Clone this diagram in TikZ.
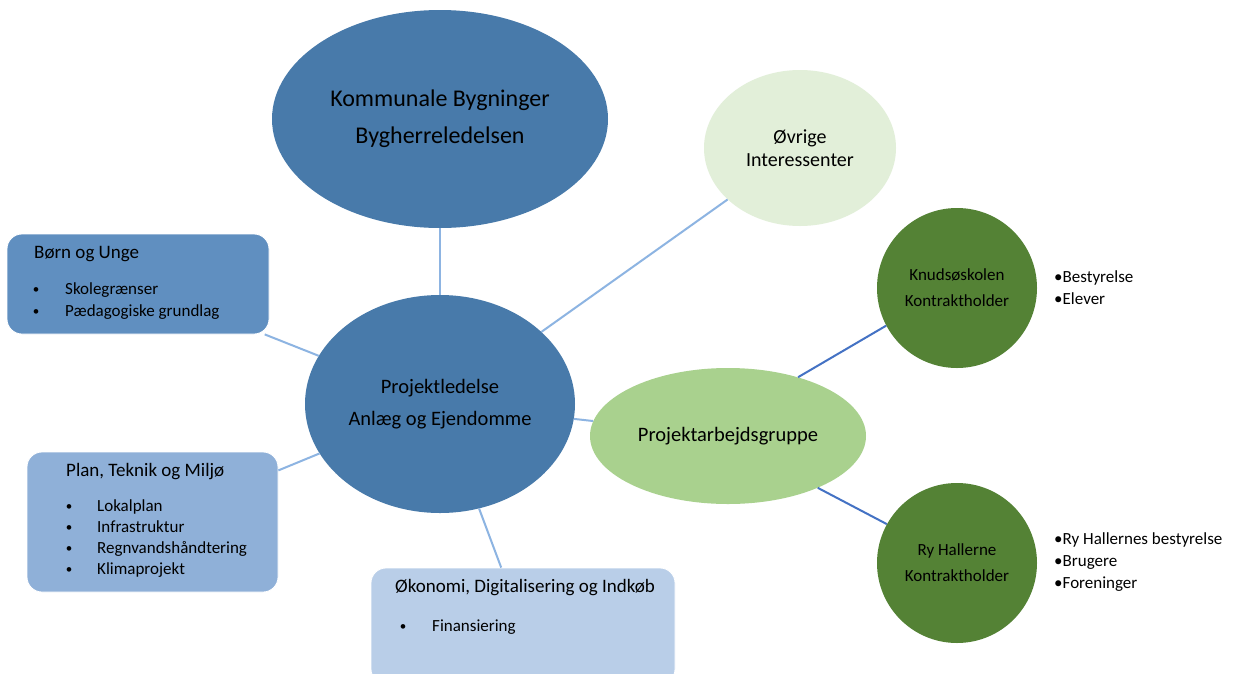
\documentclass[tikz,border=0pt]{standalone}
\usepackage{fontspec}
\setmainfont{Carlito}
\usetikzlibrary{shapes.geometric}
\definecolor{midblue}{RGB}{72,122,170}
\definecolor{boxblueA}{RGB}{96,143,192}
\definecolor{boxblueB}{RGB}{143,176,216}
\definecolor{boxblueC}{RGB}{185,206,232}
\definecolor{palegreen}{RGB}{226,239,217}
\definecolor{lightgreen}{RGB}{169,209,142}
\definecolor{darkgreen}{RGB}{84,130,53}
\definecolor{linkblue}{RGB}{141,180,226}
\definecolor{linkdark}{RGB}{68,114,196}
\begin{document}
\begin{tikzpicture}[x=1pt,y=-1pt,
  oval/.style={ellipse, inner sep=0pt, align=center, text=black},
  infobox/.style={rectangle, rounded corners=15pt, inner sep=0pt, draw=white, line width=0.8pt},
  boxtitle/.style={anchor=mid west, inner sep=0pt, font=\fontsize{19}{22}\selectfont},
  boxitem/.style={anchor=mid west, inner sep=0pt, font=\fontsize{17}{20}\selectfont},
  boxbullet/.style={anchor=center, inner sep=0pt, font=\fontsize{13}{15}\selectfont},
  sidelist/.style={anchor=west, inner sep=0pt, align=left, font=\fontsize{17}{22}\selectfont},
  link/.style={draw=linkblue, line width=2pt},
  dlink/.style={draw=linkdark, line width=2pt}]
\clip (0,0) rectangle (1235,673);
\fill[white] (0,0) rectangle (1235,673);

% ovals
\node[oval, fill=midblue, minimum width=336pt, minimum height=218pt, font=\fontsize{24}{37}\selectfont] (kb) at (440,119) {Kommunale Bygninger\\Bygherreledelsen};
\node[oval, fill=midblue, minimum width=270pt, minimum height=218pt, font=\fontsize{20.5}{32}\selectfont] (pl) at (440,404) {Projektledelse\\Anlæg og Ejendomme};
\node[oval, fill=palegreen, minimum width=192pt, minimum height=156pt, font=\fontsize{20}{23}\selectfont] (oi) at (800,148) {Øvrige\\Interessenter};
\node[oval, fill=lightgreen, minimum width=276pt, minimum height=136pt, font=\fontsize{20.5}{24}\selectfont] (pag) at (728,436) {Projektarbejdsgruppe};
\node[oval, fill=darkgreen, minimum width=160pt, minimum height=160pt, font=\fontsize{17}{26}\selectfont] (kn) at (957,288) {Knudsøskolen\\Kontraktholder};
\node[oval, fill=darkgreen, minimum width=160pt, minimum height=160pt, font=\fontsize{17}{26}\selectfont] (ry) at (957,563) {Ry Hallerne\\Kontraktholder};

% side lists
\node[sidelist] (knl) at (1054,288) {•Bestyrelse\\•Elever};
\node[sidelist] (ryl) at (1054,562) {•Ry Hallernes bestyrelse\\•Brugere\\•Foreninger};

% boxes
\node[infobox, fill=boxblueA, minimum width=262pt, minimum height=100pt] (bu) at (138,284) {};
\node[boxtitle] (bu-t) at (34,256) {Børn og Unge};
\node[boxbullet] (bu-b1) at (36,291) {\textbullet};
\node[boxitem] (bu-i1) at (65,292) {Skolegrænser};
\node[boxbullet] (bu-b2) at (36,313) {\textbullet};
\node[boxitem] (bu-i2) at (65,314) {Pædagogiske grundlag};

\node[infobox, fill=boxblueB, minimum width=251pt, minimum height=140pt] (ptm) at (152.5,522) {};
\node[boxtitle] (ptm-t) at (66,474) {Plan, Teknik og Miljø};
\node[boxbullet] (ptm-b1) at (69,508) {\textbullet};
\node[boxitem] (ptm-i1) at (97,509) {Lokalplan};
\node[boxbullet] (ptm-b2) at (69,529) {\textbullet};
\node[boxitem] (ptm-i2) at (97,530) {Infrastruktur};
\node[boxbullet] (ptm-b3) at (69,550) {\textbullet};
\node[boxitem] (ptm-i3) at (97,551) {Regnvandshåndtering};
\node[boxbullet] (ptm-b4) at (69,571) {\textbullet};
\node[boxitem] (ptm-i4) at (97,572) {Klimaprojekt};

\node[infobox, fill=boxblueC, minimum width=304pt, minimum height=116pt] (odi) at (523,626) {};
\node[boxtitle] (odi-t) at (395,590) {Økonomi, Digitalisering og Indkøb};
\node[boxbullet] (odi-b1) at (403,628) {\textbullet};
\node[boxitem] (odi-i1) at (432,629) {Finansiering};

% connectors
\draw[link] (kb) -- (pl);
\draw[link] (oi) -- (pl);
\draw[link] (bu) -- (pl);
\draw[link] (ptm) -- (pl);
\draw[link] (odi) -- (pl);
\draw[link] (pl) -- (pag);
\draw[dlink] (pag.40) -- (kn.208);
\draw[dlink] (pag.-30) -- (ry.151);
\end{tikzpicture}
\end{document}
